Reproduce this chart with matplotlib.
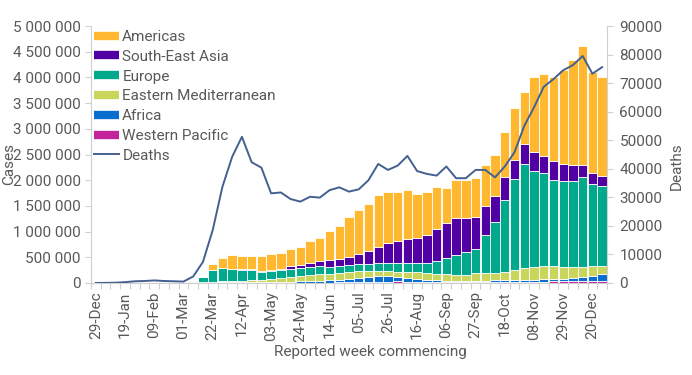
import matplotlib
matplotlib.use("Agg")
import matplotlib.pyplot as plt
from matplotlib.lines import Line2D
from matplotlib.ticker import FuncFormatter, MultipleLocator, FixedLocator
import numpy as np
import pandas as pd

plt.rcParams['font.family'] = ['Roboto', 'DejaVu Sans']

# weekly categories (week commencing)
weeks = pd.date_range('2019-12-29', periods=53, freq='7D').strftime('%d-%b').tolist()

# weekly cases by WHO region (thousands)
western_pacific = [0, 1, 3, 10, 15, 20, 17, 6, 3, 6,
                   8, 10, 15, 14, 12, 10, 8, 6, 5, 5, 5, 5, 6, 7,
                   8, 10, 12, 14, 20, 25, 28, 30, 28, 22, 18, 15, 15, 14, 15,
                   16, 17, 18, 20, 20, 22, 25, 28, 30, 30, 35, 35, 35, 40]
africa = [0, 0, 0, 0, 0, 0, 0, 0, 0, 0,
          0, 1, 2, 4, 5, 7, 9, 11, 13, 16, 20, 25, 30, 38,
          45, 55, 70, 90, 105, 110, 100, 80, 62, 52, 40, 35, 32, 30, 28,
          30, 30, 32, 33, 36, 30, 33, 44, 42, 48, 56, 75, 108, 130]
eastern_med = [0, 0, 0, 0, 0, 0, 0, 0, 0, 0,
               2, 5, 10, 15, 18, 25, 33, 45, 60, 75, 90, 110, 125, 130,
               122, 124, 128, 121, 108, 98, 97, 104, 120, 136, 131, 125, 122, 118, 117,
               142, 141, 151, 167, 197, 233, 260, 258, 258, 240, 214, 195, 187, 165]
europe = [0, 0, 0, 0, 0, 0, 0, 1, 2, 8,
          30, 94, 226, 252, 231, 216, 203, 152, 162, 157, 165, 155, 157, 155,
          145, 141, 135, 135, 142, 150, 158, 169, 173, 175, 206, 255, 311, 378, 449,
          467, 746, 979, 1395, 1764, 2024, 1867, 1804, 1674, 1673, 1686, 1751, 1596, 1552]
se_asia = [0, 0, 0, 0, 0, 0, 0, 0, 0, 0,
           0, 1, 2, 3, 5, 8, 12, 15, 20, 28, 45, 60, 75, 90,
           120, 140, 165, 195, 240, 327, 401, 427, 477, 493, 539, 614, 694, 715, 651,
           623, 564, 513, 453, 376, 389, 370, 337, 369, 324, 305, 240, 208, 195]
americas = [0, 0, 0, 0, 0, 0, 0, 0, 0, 1,
            2, 8, 105, 195, 269, 254, 265, 301, 305, 294, 330, 351, 430, 456,
            572, 645, 770, 865, 925, 1005, 996, 965, 950, 857, 831, 826, 676, 755, 750,
            758, 798, 797, 876, 1005, 1024, 1447, 1595, 1641, 1829, 2042, 2321, 1965, 1920]

# weekly deaths
deaths = [0, 50, 100, 300, 600, 700, 900, 700, 600, 500,
          2300, 7400, 18500, 33700, 44200, 51200, 42300, 40400, 31400, 31700,
          29400, 28500, 30200, 29900, 32500, 33500, 32000, 32800, 36000, 41700,
          39600, 41100, 44500, 39200, 38200, 37600, 40800, 36700, 36700, 39600,
          39600, 37000, 40800, 45800, 55000, 61500, 68700, 71400, 74500, 76300,
          79500, 73300, 75600]

series = [  # bottom to top
    ("Western Pacific", western_pacific, "#C2249C"),
    ("Africa", africa, "#0A6ED1"),
    ("Eastern Mediterranean", eastern_med, "#C9D65B"),
    ("Europe", europe, "#00A98B"),
    ("South-East Asia", se_asia, "#5100A3"),
    ("Americas", americas, "#FFB830"),
]
line_color = "#44608F"
text_color = "#595959"
spine_color = "#D0D0D0"

W, H = 692, 375
fig = plt.figure(figsize=(W / 100, H / 100), dpi=100)
ax = fig.add_axes([91 / W, 92 / H, 516 / W, 257 / H])

x = np.arange(len(weeks))
bottom = np.zeros(len(weeks))
for name, vals, color in series:
    v = np.array(vals, dtype=float) * 1000
    ax.bar(x, v, 0.96, bottom=bottom, color=color, edgecolor='white', linewidth=0.6, zorder=2)
    bottom += v

ax.set_xlim(-0.5, len(weeks) - 0.5)
ax.set_ylim(0, 5_000_000)
ax.yaxis.set_major_locator(MultipleLocator(500_000))
ax.yaxis.set_major_formatter(FuncFormatter(lambda v, p: f"{int(round(v)):,}".replace(",", " ")))

ax.set_xticks(x[::3])
ax.set_xticklabels(weeks[::3], rotation=90)
ax.xaxis.set_minor_locator(FixedLocator(np.arange(-0.5, len(weeks), 1)))
ax.tick_params(axis='x', which='major', length=0, pad=6, labelsize=11, labelcolor=text_color)
ax.tick_params(axis='x', which='minor', length=4, color=spine_color, width=0.8)
ax.tick_params(axis='y', length=4, color=spine_color, width=0.8, labelsize=11,
               labelcolor=text_color, pad=3.5)

for s in ['top', 'right']:
    ax.spines[s].set_visible(False)
ax.spines['left'].set_color(spine_color)
ax.spines['bottom'].set_color(spine_color)

ax2 = ax.twinx()
ax2.plot(x, deaths, color=line_color, lw=1.4, zorder=3)
ax2.set_ylim(0, 90000)
ax2.yaxis.set_major_locator(MultipleLocator(10000))
ax2.yaxis.set_major_formatter(FuncFormatter(lambda v, p: f"{int(round(v))}"))
ax2.tick_params(axis='y', length=4, color=spine_color, width=0.8, labelsize=11,
                labelcolor=text_color, pad=5)
for s in ['top', 'left', 'bottom']:
    ax2.spines[s].set_visible(False)
ax2.spines['right'].set_color(spine_color)

fig.text(9 / W, 1 - 164 / H, "Cases", rotation=90, ha='center', va='center',
         fontsize=11, color=text_color)
fig.text(677 / W, 1 - 166 / H, "Deaths", rotation=90, ha='center', va='center',
         fontsize=11, color=text_color)
fig.text(370 / W, 1 - 352 / H, "Reported week commencing", ha='center', va='center',
         fontsize=11, color=text_color)

handles = []
labels = []
for name, vals, color in reversed(series):
    handles.append(Line2D([0], [0], color=color, lw=6, solid_capstyle='butt'))
    labels.append(name)
handles.append(Line2D([0], [0], color=line_color, lw=1.4))
labels.append("Deaths")
leg = ax2.legend(handles, labels, loc='upper left', bbox_to_anchor=(94 / W, 1 - 30 / H),
                 bbox_transform=fig.transFigure, frameon=False, fontsize=11,
                 handlelength=1.65, handletextpad=0.2, labelspacing=0.38,
                 borderpad=0, borderaxespad=0)
for t in leg.get_texts():
    t.set_color(text_color)

fig.savefig("out.png", dpi=100)
